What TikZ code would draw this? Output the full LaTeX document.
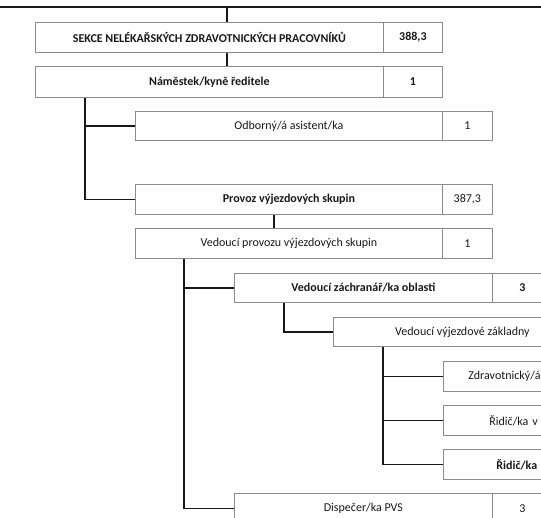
\documentclass[tikz,border=0pt]{standalone}
\usepackage{fontspec}
\setmainfont{Carlito}
\begin{document}
\begin{tikzpicture}[x=1pt,y=-1pt,
  cell/.style={draw=black!45, line width=0.8pt, anchor=north west, minimum height=30pt,
    inner sep=0pt, font=\fontsize{12}{14}\selectfont, text=black!90},
  bf/.style={font=\fontsize{12}{14}\selectfont\bfseries},
  partcell/.style={text width=200pt, align=left, inner xsep=#1, inner ysep=0pt},
  conn/.style={line width=1.6pt, draw=black!90}]
\useasboundingbox (0,0) rectangle (541,517);
\clip (0,0) rectangle (541,517);
% boxes
\node[cell,bf,minimum width=348pt] (sekce) at (35,22) {SEKCE NELÉKAŘSKÝCH ZDRAVOTNICKÝCH PRACOVNÍKŮ};
\node[cell,bf,minimum width=59pt] (sekceN) at (383,22) {388,3};
\node[cell,bf,minimum width=348pt,minimum height=31pt] (nam) at (35,66) {Náměstek/kyně ředitele};
\node[cell,bf,minimum width=59pt,minimum height=31pt] (namN) at (383,66) {1};
\node[cell,minimum width=307pt,minimum height=29pt] (odb) at (135,111) {Odborný/á asistent/ka};
\node[cell,minimum width=50pt,minimum height=29pt] (odbN) at (442,111) {1};
\node[cell,bf,minimum width=307pt] (prov) at (135,184) {Provoz výjezdových skupin};
\node[cell,minimum width=50pt] (provN) at (442,184) {387,3};
\node[cell,minimum width=307pt] (vps) at (135,228) {Vedoucí provozu výjezdových skupin};
\node[cell,minimum width=50pt] (vpsN) at (442,228) {1};
\node[cell,bf,minimum width=258pt,minimum height=29pt] (vzo) at (234,273) {Vedoucí záchranář/ka oblasti};
\node[cell,bf,minimum width=60pt,minimum height=29pt] (vzoN) at (492,273) {3};
\node[cell,minimum width=258pt,minimum height=29pt] (vvz) at (333,317) {Vedoucí výjezdové základny};
\node[cell,partcell=25pt] (zdr) at (443,361) {Zdravotnický/á};
\node[cell,partcell=46pt] (rid) at (443,405) {Řidič/ka v};
\node[cell,bf,partcell=53pt] (ridb) at (443,449) {Řidič/ka};
\node[cell,minimum width=258pt] (disp) at (234,493) {Dispečer/ka PVS};
\node[cell,minimum width=60pt] (dispN) at (492,493) {3};
% connectors
\coordinate (tl) at (0,7);
\coordinate (tr) at (541,7);
\coordinate (top) at (227,7);
\draw[conn] (tl) -- (tr);
\draw[conn] (top) -- (top |- sekce.north);
\draw[conn] (top |- sekce.south) -- (top |- nam.north);
\draw[conn] ([xshift=50pt]nam.south west) |- (odb.west);
\draw[conn] ([xshift=50pt]nam.south west) |- (prov.west);
\draw[conn] ([xshift=139pt]prov.south west) -- ([xshift=139pt]vps.north west);
\draw[conn] ([xshift=49pt]vps.south west) |- (vzo.west);
\draw[conn] ([xshift=49pt]vps.south west) |- (disp.west);
\draw[conn] ([xshift=50pt]vzo.south west) |- (vvz.west);
\draw[conn] ([xshift=50pt]vvz.south west) |- (zdr.west);
\draw[conn] ([xshift=50pt]vvz.south west) |- (rid.west);
\draw[conn] ([xshift=50pt]vvz.south west) |- (ridb.west);
\end{tikzpicture}
\end{document}
